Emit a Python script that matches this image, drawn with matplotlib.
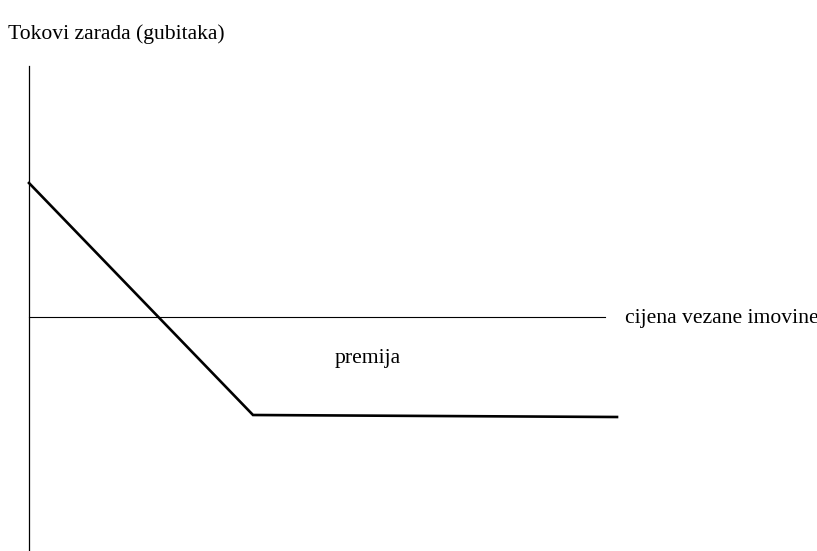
import matplotlib
matplotlib.use("Agg")
import matplotlib.pyplot as plt

# payoff of the position, in diagram units (origin where the axes cross)
price = [0, 224, 588]
payoff = [134, -98, -100]

# axis extents
x_axis_end = 576
y_axis_top = 251
y_axis_bottom = -233

y_label = "Tokovi zarada (gubitaka)"
x_label = "cijena vezane imovine"
premium_label = "premija"

plt.rcParams['font.family'] = ['Liberation Serif', 'DejaVu Serif']

fig = plt.figure(figsize=(8.17, 5.51), dpi=100)
ax = fig.add_axes([0, 0, 1, 1])
ax.set_xlim(-29, 788)
ax.set_ylim(-234, 317)
ax.axis('off')

# axes
ax.plot([0, 0], [y_axis_bottom, y_axis_top], color='black', lw=0.9)
ax.plot([0, x_axis_end], [0, 0], color='black', lw=0.8)

# payoff line
ax.plot(price, payoff, color='black', lw=1.9, solid_joinstyle='miter')

ax.text(-21, 283, y_label, fontsize=15.6, ha='left', va='center')
ax.text(596, -1, x_label, fontsize=15.6, ha='left', va='center')
ax.text(306, -42, premium_label, fontsize=15.6, ha='left', va='center')

fig.savefig('out.png', dpi=100)
